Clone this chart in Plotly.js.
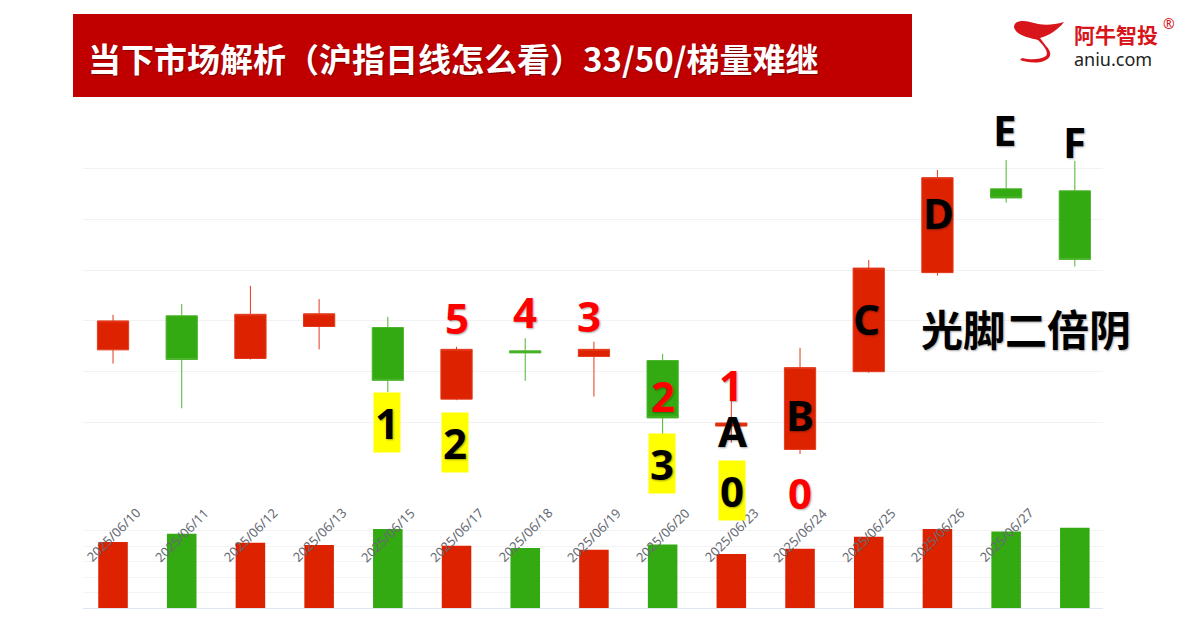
<!DOCTYPE html>
<html>
<head>
<meta charset="utf-8">
<script src="https://cdn.plot.ly/plotly-3.0.1.min.js"></script>
<style>
  html, body { margin: 0; padding: 0; background: #ffffff; }
  #chart { width: 1192px; height: 626px; }
</style>
</head>
<body>
<div id="chart"></div>
<script>
// ---- data ----
const dates = ['2025/06/10','2025/06/11','2025/06/12','2025/06/13','2025/06/15','2025/06/17','2025/06/18','2025/06/19','2025/06/20','2025/06/23','2025/06/24','2025/06/25','2025/06/26','2025/06/27',''];
const openP  = [3364.3, 3371.0, 3362.6, 3368.9, 3368.7, 3354.6, 3364.1, 3363.0, 3362.2, 3349.3, 3344.7, 3360.0, 3379.5, 3396.0, 3395.6];
const highP  = [3371.2, 3373.3, 3376.9, 3374.3, 3370.8, 3364.9, 3366.6, 3365.9, 3363.5, 3354.4, 3364.7, 3382.0, 3399.7, 3401.7, 3401.5];
const lowP   = [3361.6, 3352.8, 3362.4, 3364.4, 3356.0, 3354.4, 3358.2, 3355.1, 3347.5, 3346.0, 3343.8, 3359.8, 3378.9, 3393.3, 3380.7];
const closeP = [3370.0, 3362.4, 3371.3, 3371.4, 3358.3, 3364.4, 3363.7, 3364.4, 3350.9, 3349.9, 3360.8, 3380.4, 3398.2, 3394.2, 3382.1];
const volume = [4252, 4790, 4207, 4058, 5094, 4013, 3864, 3754, 4097, 3476, 3819, 4595, 5094, 4939, 5170];

const titleText = '当下市场解析（沪指日线怎么看）33/50/梯量难继';
const noteText = '光脚二倍阴';

const RED = '#DD2200', GREEN = '#33AA11';
const idx = dates.map((d, i) => i);
const volColors = idx.map(i => closeP[i] >= openP[i] ? RED : GREEN);

// pixel helpers for annotation placement (plot area: x 83..1103, y 10..608)
const PX = px => (px - 83) / 1020;
const PY = py => (608 - py) / 598;

const candle = {
  type: 'candlestick',
  x: idx, open: openP, high: highP, low: lowP, close: closeP,
  xaxis: 'x', yaxis: 'y',
  increasing: { line: { color: '#E33A1C', width: 1 }, fillcolor: RED },
  decreasing: { line: { color: '#4DB52E', width: 1 }, fillcolor: GREEN },
  whiskerwidth: 0,
  hoverinfo: 'none'
};
const vol = {
  type: 'bar', x: idx, y: volume, xaxis: 'x', yaxis: 'y2',
  width: 0.43,
  marker: { color: volColors, line: { width: 0 } },
  hoverinfo: 'none'
};

const bigFont = (color) => ({ family: 'Noto Sans, Noto Sans CJK SC, sans-serif', size: 42, weight: 'bold', color: color, shadow: '1px 1px 2px rgba(0,0,0,0.35)' });

const annotations = [];
// date labels
dates.forEach((d, i) => {
  if (!d) return;
  annotations.push({ xref: 'x', yref: 'paper', x: i, y: PY(535), text: d, showarrow: false,
    textangle: -45, xanchor: 'center', yanchor: 'middle',
    font: { family: 'Noto Sans, DejaVu Sans, sans-serif', size: 13, color: '#666A73' } });
});
// red digits
[['5', 5, 317, 0], ['4', 6, 311, 0], ['3', 7, 315, -5], ['2', 8, 395, 0], ['1', 9, 384, 0], ['0', 10, 492, 0]]
  .forEach(([t, i, py, dx]) => annotations.push({ xref: 'x', yref: 'paper', x: i, y: PY(py), xshift: dx, text: t,
    showarrow: false, xanchor: 'center', yanchor: 'middle', font: bigFont('#FF0000') }));
// black letters
[['A', 9, 430, 2], ['B', 10, 414, 0], ['C', 11, 318, -2], ['D', 12, 212, 1], ['E', 13, 129, -1], ['F', 14, 142, 0]]
  .forEach(([t, i, py, dx]) => annotations.push({ xref: 'x', yref: 'paper', x: i, y: PY(py), xshift: dx, text: t,
    showarrow: false, xanchor: 'center', yanchor: 'middle', font: bigFont('#000000') }));
// yellow boxed digits
[['1', 4, 422, -1], ['2', 5, 442, -2], ['3', 8, 463, -1], ['0', 9, 490, 1]]
  .forEach(([t, i, py, dx]) => annotations.push({ xref: 'x', yref: 'paper', x: i, y: PY(py), xshift: dx, text: t,
    showarrow: false, xanchor: 'center', yanchor: 'middle', bgcolor: '#FFFF00', borderpad: 1,
    font: bigFont('#000000') }));
// note text
annotations.push({ xref: 'paper', yref: 'paper', x: PX(1026), y: PY(327), text: noteText, showarrow: false,
  xanchor: 'center', yanchor: 'middle',
  font: { family: 'Noto Sans CJK SC, sans-serif', size: 42, weight: 'bold', color: '#000000', shadow: '1px 1px 2px rgba(0,0,0,0.35)' } });
// title
annotations.push({ xref: 'paper', yref: 'paper', x: PX(86), y: PY(58), text: titleText, showarrow: false,
  xanchor: 'left', yanchor: 'middle',
  font: { family: 'Noto Sans CJK SC, sans-serif', size: 33, weight: 'bold', color: '#FFFFFF', shadow: '1px 1px 1px rgba(80,0,0,0.6)' } });
// logo texts
annotations.push({ xref: 'paper', yref: 'paper', x: PX(1116), y: PY(34), text: '阿牛智投', showarrow: false,
  xanchor: 'center', yanchor: 'middle', font: { family: 'Noto Sans CJK SC, sans-serif', size: 21, weight: 'bold', color: '#D7151B' } });
annotations.push({ xref: 'paper', yref: 'paper', x: PX(1169), y: PY(24), text: '®', showarrow: false,
  xanchor: 'center', yanchor: 'middle', font: { family: 'Noto Sans, sans-serif', size: 14, color: '#D7151B' } });
annotations.push({ xref: 'paper', yref: 'paper', x: PX(1113), y: PY(59), text: 'aniu.com', showarrow: false,
  xanchor: 'center', yanchor: 'middle', font: { family: 'Noto Sans, sans-serif', size: 18, color: '#222222' } });

const shapes = [
  { type: 'rect', xref: 'paper', yref: 'paper', x0: PX(73), x1: PX(912), y0: PY(97), y1: PY(14),
    fillcolor: '#C00000', line: { width: 0 }, layer: 'below' },
  { type: 'path', xref: 'paper', yref: 'paper', xsizemode: 'pixel', ysizemode: 'pixel',
    xanchor: PX(1040), yanchor: PY(40),
    path: 'M -26,13 C -26,19 -18,20 -10,18 C 0,15 10,14 24,18 C 18,10 8,4 0,2 L 6,-6 C 12,-12 12,-18 4,-21 C -4,-24 -14,-22 -20,-20 L -18,-18 C -10,-20 0,-20 6,-16 C 9,-12 4,-6 -2,0 C -10,2 -24,4 -26,13 Z',
    fillcolor: '#D7151B', line: { width: 0 } }
];

const layout = {
  width: 1192, height: 626,
  margin: { l: 83, r: 89, t: 10, b: 18 },
  paper_bgcolor: '#FFFFFF', plot_bgcolor: '#FFFFFF',
  showlegend: false,
  boxgap: 0.35, boxgroupgap: 0.3,
  xaxis: { anchor: 'y2', range: [-0.437, 14.41], showticklabels: false, ticks: '', showgrid: false,
    zeroline: false, showline: true, linecolor: '#E0E6F1', linewidth: 1, rangeslider: { visible: false }, fixedrange: true },
  yaxis: { domain: [PY(463.14), PY(127.86)], range: [3342, 3408], tickmode: 'linear', tick0: 3350, dtick: 10,
    showticklabels: false, ticks: '', gridcolor: '#F2F2F5', gridwidth: 1, zeroline: false, showline: false, fixedrange: true },
  yaxis2: { domain: [0, PY(515)], range: [0, 6000], tickmode: 'linear', tick0: 0, dtick: 1000,
    showticklabels: false, ticks: '', gridcolor: '#F3F3F5', zeroline: false, showline: false, fixedrange: true },
  annotations: annotations,
  shapes: shapes
};

Plotly.newPlot('chart', [vol, candle], layout, { staticPlot: true, displayModeBar: false });
</script>
</body>
</html>
